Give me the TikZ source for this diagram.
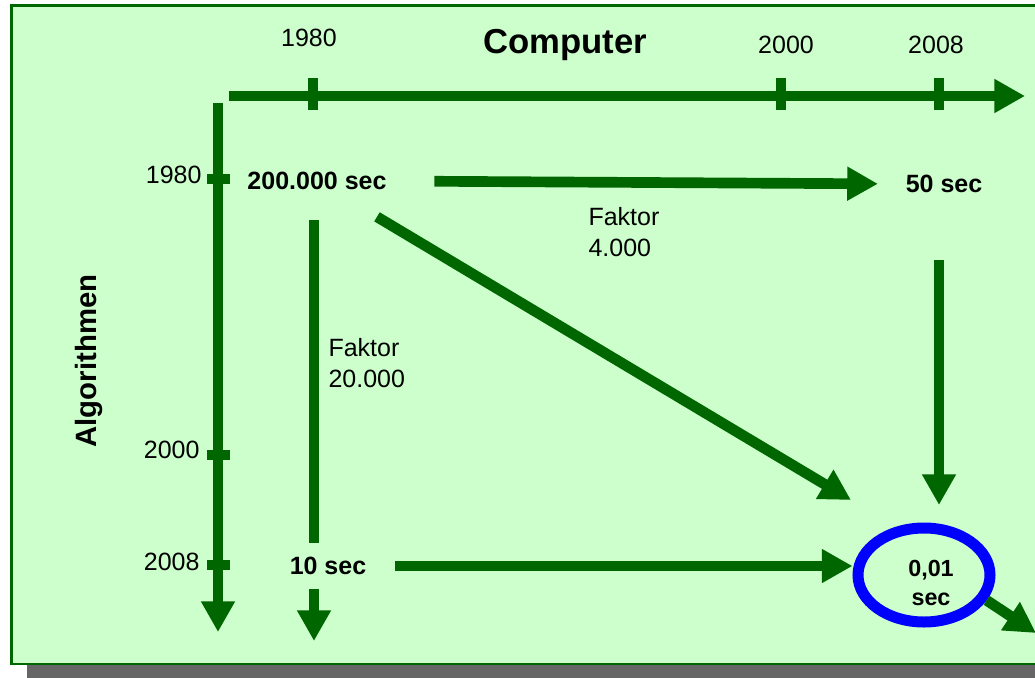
\documentclass[tikz,border=0pt]{standalone}
\usepackage{fontspec}
\setmainfont{Liberation Sans}
\usetikzlibrary{arrows.meta,shapes.geometric}

\definecolor{boxgreen}{RGB}{204,255,204}
\definecolor{darkgreen}{RGB}{0,102,0}
\definecolor{shadowgray}{RGB}{102,102,102}

\tikzset{every picture/.style={line width=0.75pt},
  bar/.style={draw=darkgreen,line width=8pt},
  arr/.style={bar,-{Triangle[length=23pt,width=24pt]}},
  year/.style={inner sep=0pt,font=\fontsize{18.75}{22}\selectfont},
  timebox/.style={inner sep=0pt,font=\bfseries\fontsize{18.75}{22}\selectfont},
  factor/.style={anchor=north west,inner sep=0pt,align=left,font=\fontsize{18.75}{23.25}\selectfont},
  oval/.style={ellipse,draw=blue,line width=8.25pt,minimum width=99pt,minimum height=70.5pt,inner sep=0pt}
}

\begin{document}
\begin{tikzpicture}[x=0.75pt,y=0.75pt,yscale=-1,xscale=1]
\useasboundingbox (0,0) rectangle (1035,678);
\clip (0,0) rectangle (1035,678);

%Shape: Rectangle (shadow and panel)
\fill[shadowgray] (26.5,20) rectangle (1060,690);
\draw[darkgreen,line width=2pt,fill=boxgreen] (11.3,5.5) rectangle (1050,664);

%Straight Lines (axes)
\coordinate (hstart) at (229,96);
\coordinate (hend) at (1025,96);
\coordinate (vstart) at (218,103);
\coordinate (vend) at (218,632);
\draw[arr] (hstart) -- (hend);
\draw[arr] (vstart) -- (vend);
\foreach \x in {313,781,939}
  \draw[bar] (\x,78) -- (\x,110);
\foreach \y in {179,455,565}
  \draw[bar] (207,\y) -- (230,\y);

% Text Node
\node[year] (c1980) at (309,38) {1980};
\node[year] (c2000) at (786,45) {2000};
\node[year] (c2008) at (936,45) {2008};
\node[inner sep=0pt,font=\bfseries\fontsize{26}{30}\selectfont] (comp) at (565,45) {Computer};
\node[year,anchor=east] (a1980) at (202,175) {1980};
\node[year,anchor=east] (a2000) at (200,450) {2000};
\node[year,anchor=east] (a2008) at (200,562) {2008};
\node[inner sep=0pt,rotate=90,font=\bfseries\fontsize{22}{26}\selectfont] (algo) at (89,361) {Algorithmen};

% Text Node
\node[timebox] (n200) at (317,181) {200.000 sec};
\node[timebox] (n50) at (944,184) {50 sec};
\node[oval] (n001) at (924,575) {};
\node[align=center,inner sep=0pt,font=\bfseries\fontsize{17.5}{21.75}\selectfont] (t001) at (931,583) {0,01\\sec};

\coordinate (d200) at (314,641);
\coordinate (ddiag) at (851,500);
\coordinate (d50) at (939,505);
\coordinate (dout) at (1036,633);

%Straight Lines
\draw[arr,shorten <=35.5pt,shorten >=20.5pt] (n200.east) -- (n50.west);
\draw[arr,shorten <=22.5pt] (n200.south -| d200) -- (d200);
\draw[arr,shorten <=52.4pt] (n200.center) -- (ddiag);
\draw[arr,shorten <=50pt] (n50.south -| d50) -- (d50);

% Text Node
\node[timebox,fill=boxgreen,minimum height=35pt,inner xsep=3pt] (n10) at (328,566) {10 sec};
\draw[arr,shorten <=18.4pt] (n10.east) -- (n10.east -| n001.west);
\draw[arr] (n001.-22) -- (dout);

% Text Node
\node[factor] (f4000) at (588,207) {Faktor\\4.000};
\node[factor] (f20000) at (328,338) {Faktor\\20.000};
\end{tikzpicture}
\end{document}
